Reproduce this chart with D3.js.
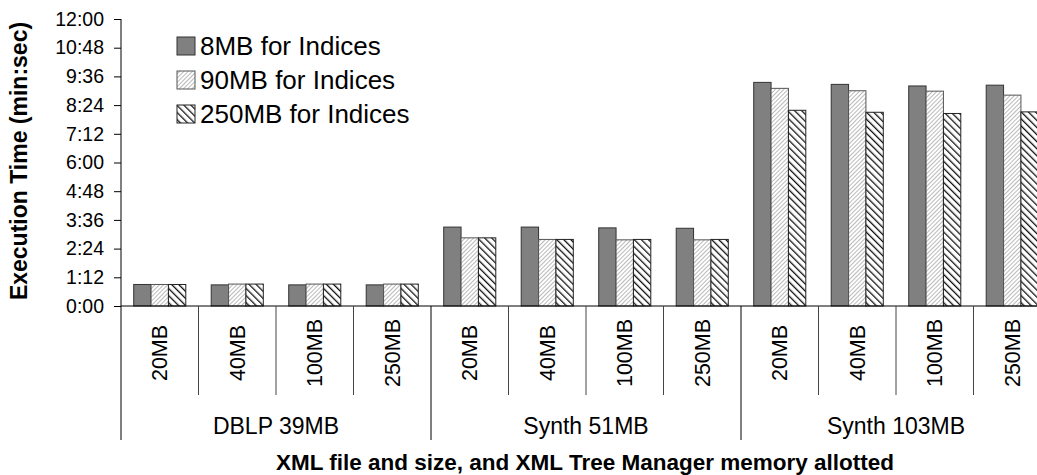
<!DOCTYPE html>
<html>
<head>
<meta charset="utf-8">
<script src="https://cdn.jsdelivr.net/npm/d3@7"></script>
<style>
  html, body { margin: 0; padding: 0; background: #fff; }
  svg { display: block; font-family: "Liberation Sans", Arial, sans-serif; }
</style>
</head>
<body>
<svg id="chart" width="1037" height="475"></svg>
<script>
// ---- Data (seconds) ----
const groups = ["DBLP 39MB", "Synth 51MB", "Synth 103MB"];
const memSizes = ["20MB", "40MB", "100MB", "250MB"];
const seriesNames = ["8MB for Indices", "90MB for Indices", "250MB for Indices"];
const values8MB   = [54, 53, 53, 53,   198, 198, 196, 195,   561, 556, 552, 554];
const values90MB  = [54, 55, 55, 55,   171, 167, 166, 166,   546, 540, 539, 529];
const values250MB = [54, 55, 55, 55,   171, 167, 167, 167,   491, 486, 483, 487];
const yTicks = [0, 72, 144, 216, 288, 360, 432, 504, 576, 648, 720];

(function () {
const seriesValues = [values8MB, values90MB, values250MB];
const categories = [];
groups.forEach(g => memSizes.forEach(m => categories.push({group: g, mem: m, key: g + "|" + m})));

const svg = d3.select("#chart");
const pLeft = 121, pRight = 1051, pTop = 19, pBottom = 306;

// patterns
const defs = svg.append("defs");
const p1 = defs.append("pattern").attr("id", "light").attr("patternUnits", "userSpaceOnUse")
  .attr("width", 3).attr("height", 3).attr("patternTransform", "rotate(45)");
p1.append("rect").attr("width", 3).attr("height", 3).attr("fill", "#fff");
p1.append("line").attr("x1", 0).attr("y1", 0).attr("x2", 0).attr("y2", 3)
  .attr("stroke", "#a8a8a8").attr("stroke-width", 1.6);
const p2 = defs.append("pattern").attr("id", "heavy").attr("patternUnits", "userSpaceOnUse")
  .attr("width", 5).attr("height", 5).attr("patternTransform", "rotate(-45)");
p2.append("rect").attr("width", 5).attr("height", 5).attr("fill", "#fff");
p2.append("line").attr("x1", 0).attr("y1", 0).attr("x2", 0).attr("y2", 5)
  .attr("stroke", "#111").attr("stroke-width", 2.6);

const fills = ["#808080", "url(#light)", "url(#heavy)"];
const strokes = ["#333", "#555", "#222"];

const x = d3.scaleBand().domain(categories.map(c => c.key)).range([pLeft, pRight]).padding(0);
const y = d3.scaleLinear().domain([0, 720]).range([pBottom, pTop]);
const barGroupW = x.bandwidth() * 0.672;
const xs = d3.scaleBand().domain(d3.range(3)).range([0, barGroupW]);

const fmt = s => Math.floor(s / 60) + ":" + String(s % 60).padStart(2, "0");

// bars
const cat = svg.append("g");
categories.forEach((c, i) => {
  const g = cat.append("g")
    .attr("transform", `translate(${x(c.key) + (x.bandwidth() - barGroupW) / 2},0)`);
  seriesValues.forEach((vals, s) => {
    g.append("rect")
      .attr("x", xs(s)).attr("y", y(vals[i]))
      .attr("width", xs.bandwidth()).attr("height", y(0) - y(vals[i]))
      .attr("fill", fills[s]).attr("stroke", strokes[s]).attr("stroke-width", 1);
  });
});

// y axis
const yAxis = d3.axisLeft(y).tickValues(yTicks).tickFormat(fmt).tickSize(7).tickSizeOuter(0);
const ya = svg.append("g").attr("transform", `translate(${pLeft},0)`).call(yAxis);
ya.select(".domain").remove();
ya.selectAll(".tick line").attr("stroke", "#000");
ya.selectAll(".tick text").attr("font-size", 19.5).attr("fill", "#000")
  .attr("font-family", "Liberation Sans, Arial, sans-serif").attr("x", -17);
svg.append("line").attr("x1", pLeft).attr("x2", pLeft).attr("y1", pTop).attr("y2", 440)
  .attr("stroke", "#000");

// x baseline
svg.append("line").attr("x1", pLeft).attr("x2", pRight).attr("y1", pBottom).attr("y2", pBottom)
  .attr("stroke", "#000");

// category separators and labels
categories.forEach((c, i) => {
  const xr = x(c.key) + x.bandwidth();
  const isGroupEnd = (i % 4 === 3);
  svg.append("line").attr("x1", xr).attr("x2", xr).attr("y1", pBottom)
    .attr("y2", isGroupEnd ? 440 : 395).attr("stroke", isGroupEnd ? "#000" : "#444");
  const cx = x(c.key) + x.bandwidth() / 2;
  svg.append("text").attr("transform", `translate(${cx},353) rotate(-90)`)
    .attr("text-anchor", "middle").attr("dy", "0.35em")
    .attr("font-size", 21.5).attr("fill", "#000").text(c.mem);
});
groups.forEach((g, gi) => {
  const x0 = x(categories[gi * 4].key), x1 = x(categories[gi * 4 + 3].key) + x.bandwidth();
  svg.append("text").attr("x", (x0 + x1) / 2).attr("y", 434)
    .attr("text-anchor", "middle").attr("font-size", 23).attr("fill", "#000").text(g);
});

// axis titles
svg.append("text").attr("x", 585).attr("y", 470).attr("text-anchor", "middle")
  .attr("font-size", 22.5).attr("font-weight", "bold").attr("fill", "#000")
  .text("XML file and size, and XML Tree Manager memory allotted");
svg.append("text").attr("transform", "translate(27,161) rotate(-90)")
  .attr("text-anchor", "middle").attr("font-size", 23).attr("font-weight", "bold")
  .attr("fill", "#000").text("Execution Time (min:sec)");

// legend
const leg = svg.append("g");
seriesNames.forEach((n, s) => {
  const yy = 46 + s * 34;
  leg.append("rect").attr("x", 177).attr("y", yy - 9).attr("width", 18).attr("height", 18)
    .attr("fill", fills[s]).attr("stroke", strokes[s]).attr("stroke-width", 1);
  leg.append("text").attr("x", 200).attr("y", yy).attr("dy", "0.36em")
    .attr("font-size", 26).attr("fill", "#000").text(n);
});
})();
</script>
</body>
</html>
